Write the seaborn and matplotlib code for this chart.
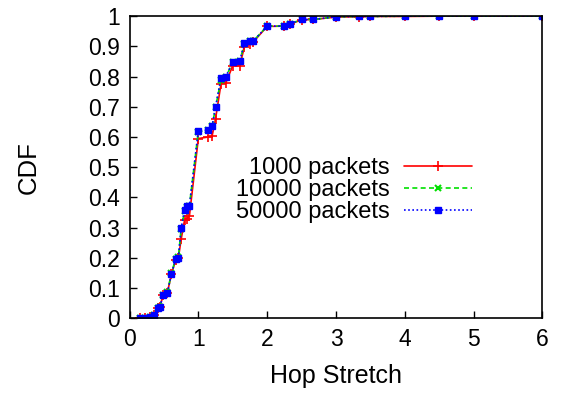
import matplotlib
matplotlib.use("Agg")
import matplotlib.pyplot as plt
import seaborn as sns
import pandas as pd

hop_stretch = [0.15, 0.22, 0.3, 0.36, 0.42, 0.44, 0.49, 0.55, 0.61, 0.67, 0.71, 0.75,
               0.8, 0.83, 0.87, 1.0, 1.14, 1.2, 1.25, 1.33, 1.4, 1.5, 1.6, 1.67, 1.75,
               1.8, 2.0, 2.25, 2.33, 2.5, 2.67, 3.0, 3.33, 3.5, 4.0, 4.5, 5.0, 6.0]

cdf_1000 = [0.0, 0.001, 0.005, 0.011, 0.033, 0.038, 0.077, 0.085, 0.147, 0.192, 0.2, 0.261,
            0.325, 0.33, 0.338, 0.595, 0.6, 0.603, 0.66, 0.777, 0.779, 0.836, 0.836, 0.898, 0.907,
            0.915, 0.966, 0.967, 0.973, 0.988, 0.989, 0.997, 0.998, 0.999, 0.999, 1.0, 1.0, 1.0]

cdf_10000 = [0.0, 0.001, 0.005, 0.011, 0.033, 0.038, 0.078, 0.086, 0.15, 0.197, 0.202, 0.295,
             0.355, 0.37, 0.372, 0.618, 0.622, 0.635, 0.698, 0.79, 0.798, 0.848, 0.85, 0.908, 0.917,
             0.918, 0.967, 0.967, 0.974, 0.989, 0.989, 0.998, 0.999, 0.999, 1.0, 1.0, 1.0, 1.0]

cdf_50000 = [0.0, 0.001, 0.005, 0.011, 0.033, 0.038, 0.077, 0.085, 0.147, 0.196, 0.2, 0.298,
             0.358, 0.371, 0.372, 0.62, 0.623, 0.636, 0.699, 0.797, 0.8, 0.849, 0.851, 0.91, 0.918,
             0.918, 0.967, 0.967, 0.974, 0.989, 0.989, 0.998, 0.999, 0.999, 1.0, 1.0, 1.0, 1.0]

labels = ["1000 packets", "10000 packets", "50000 packets"]

sns.set_style("white")
plt.rcParams['font.family'] = ['Liberation Sans', 'DejaVu Sans']
plt.rcParams['text.color'] = 'black'
plt.rcParams['axes.labelcolor'] = 'black'
plt.rcParams['xtick.color'] = 'black'
plt.rcParams['ytick.color'] = 'black'

fig = plt.figure(figsize=(5.68, 3.94), dpi=100)
ax = fig.add_axes([0.228, 0.192, 0.727, 0.767])

styles = [
    dict(color="#ff0000", linestyle="-", marker="+", markersize=6.5, markeredgewidth=1.2, linewidth=1.2),
    dict(color="#00e000", linestyle=(0, (3, 2)), marker="x", markersize=5, markeredgewidth=1.5, linewidth=1.2),
    dict(color="#0000ff", linestyle=(0, (1, 1.5)), marker="s", markersize=5, markeredgewidth=1.0, linewidth=1.2),
]

handles = []
for lab, vals, st in zip(labels, [cdf_1000, cdf_10000, cdf_50000], styles):
    df = pd.DataFrame({"x": hop_stretch, "y": vals})
    n_before = len(ax.lines)
    sns.lineplot(data=df, x="x", y="y", ax=ax, sort=False, estimator=None,
                 color=st["color"], legend=False)
    line = ax.lines[n_before]
    line.set_linestyle(st["linestyle"])
    line.set_linewidth(st["linewidth"])
    line.set_marker(st["marker"])
    line.set_markersize(st["markersize"])
    line.set_markeredgewidth(st["markeredgewidth"])
    line.set_markeredgecolor(st["color"])
    line.set_markerfacecolor(st["color"])
    line.set_label(lab)
    handles.append(line)

ax.set_xlim(0, 6)
ax.set_ylim(0, 1)
ax.set_xticks([0, 1, 2, 3, 4, 5, 6])
ax.set_xticklabels(["0", "1", "2", "3", "4", "5", "6"])
ax.set_yticks([i / 10 for i in range(11)])
ax.set_yticklabels(["0", "0.1", "0.2", "0.3", "0.4", "0.5", "0.6", "0.7", "0.8", "0.9", "1"])
ax.tick_params(direction="in", length=5, width=1, labelsize=16.5, colors="black", pad=7,
               bottom=True, left=True)
ax.set_xlabel("Hop Stretch", fontsize=18, labelpad=9)
ax.set_ylabel("CDF", fontsize=18.5, labelpad=34)
for sp in ax.spines.values():
    sp.set_color("black")
    sp.set_linewidth(1.2)

leg = ax.legend(handles=handles, labels=labels, loc="center right",
                bbox_to_anchor=(472 / 568, 1 - 190 / 394),
                bbox_transform=fig.transFigure, frameon=False, markerfirst=False,
                fontsize=17, handlelength=2.9, handletextpad=0.6, labelspacing=0.0,
                borderpad=0, borderaxespad=0, numpoints=1)
leg._legend_box.align = "right"

fig.savefig("out.png", dpi=100)
